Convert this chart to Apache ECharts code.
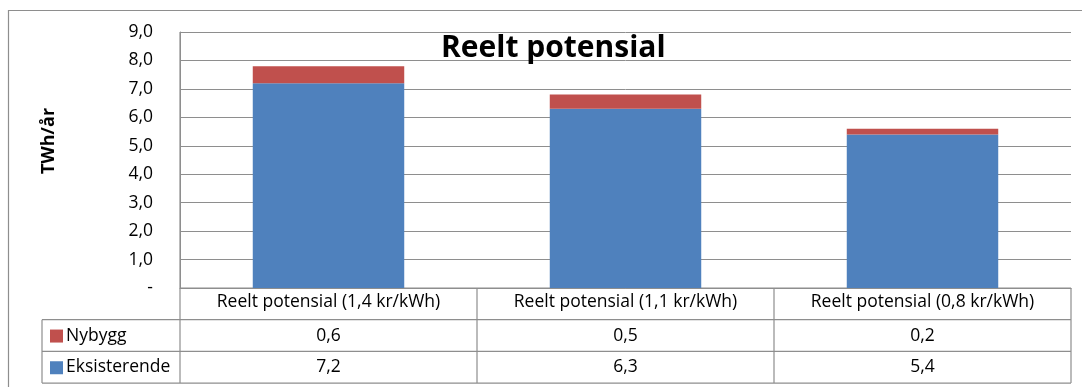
<!DOCTYPE html>
<html>
<head>
<meta charset="utf-8">
<script src="https://cdn.jsdelivr.net/npm/echarts@6/dist/echarts.min.js"></script>
<style>
  html, body { margin: 0; padding: 0; background: #fff; }
  #chart { width: 1082px; height: 387px; }
</style>
</head>
<body>
<div id="chart"></div>
<script>
// Stacked potential per price level, with a data table underneath
const categories = [
  'Reelt potensial (1,4 kr/kWh)',
  'Reelt potensial (1,1 kr/kWh)',
  'Reelt potensial (0,8 kr/kWh)'
];
const seriesNames = ['Nybygg', 'Eksisterende'];
const nybygg = [0.6, 0.5, 0.2];
const eksisterende = [7.2, 6.3, 5.4];
const yMin = 0, yMax = 9, yStep = 1;

const FONT = '"Open Sans", Lato, "Liberation Sans", sans-serif';
const BLUE = '#4F81BD';
const RED = '#C0504D';
const LINE = '#8E8E8E';
const fmt = v => v.toFixed(1).replace('.', ',');

const chart = echarts.init(document.getElementById('chart'), null, { renderer: 'canvas' });

const gridLeft = 180, gridRight = 11, gridTop = 32, gridBottom = 99;

chart.setOption({
  animation: false,
  backgroundColor: '#fff',
  textStyle: { fontFamily: FONT },
  title: {
    text: 'Reelt potensial',
    left: 436,
    top: 28,
    textStyle: { fontFamily: FONT, fontSize: 30, fontWeight: 'bold', color: '#000' }
  },
  grid: { left: gridLeft, right: gridRight, top: gridTop, bottom: gridBottom },
  xAxis: {
    type: 'category',
    data: categories,
    axisLine: { show: true, lineStyle: { color: LINE, width: 1 } },
    axisTick: { show: false },
    axisLabel: { margin: 5, fontSize: 17.5, color: '#000', fontFamily: FONT },
    splitLine: { show: false }
  },
  yAxis: {
    type: 'value',
    min: yMin, max: yMax, interval: yStep,
    axisLine: { show: true, lineStyle: { color: LINE, width: 1 } },
    axisTick: { show: false },
    axisLabel: {
      margin: 27, fontSize: 17.5, color: '#000', fontFamily: FONT,
      formatter: v => (v === 0 ? '-' : fmt(v))
    },
    splitLine: { show: true, lineStyle: { color: LINE, width: 1 } }
  },
  series: [
    {
      name: 'Eksisterende', type: 'bar', stack: 'total',
      data: eksisterende, barWidth: '51%',
      itemStyle: { color: BLUE }
    },
    {
      name: 'Nybygg', type: 'bar', stack: 'total',
      data: nybygg, barWidth: '51%',
      itemStyle: { color: RED }
    }
  ]
});

// Data table below the plot: rows aligned to the category axis
function drawTable() {
  const centers = categories.map((c, i) => chart.convertToPixel({ xAxisIndex: 0 }, i));
  const step = centers.length > 1 ? centers[1] - centers[0] : 297;
  const bounds = [centers[0] - step / 2].concat(centers.map(c => c + step / 2));
  const xL = bounds[0], xR = bounds[bounds.length - 1];
  const y0 = chart.convertToPixel({ yAxisIndex: 0 }, 0);
  const yTop = chart.convertToPixel({ yAxisIndex: 0 }, yMax);
  const rowH = 31.7;
  const rows = [y0, y0 + rowH, y0 + 2 * rowH, y0 + 3 * rowH];
  const legendLeft = 42;
  const els = [];
  const line = (x1, y1, x2, y2) => els.push({
    type: 'line', silent: true,
    shape: { x1, y1, x2, y2 },
    style: { stroke: LINE, lineWidth: 1.2 }
  });

  // outer frame edges of the chart area
  line(8, 10.5, 1082, 10.5);
  line(8.5, 10, 8.5, 387);

  // horizontal rules
  line(xL, rows[0], xR, rows[0]);
  for (let r = 1; r < rows.length; r++) line(legendLeft, rows[r], xR, rows[r]);
  // vertical rules
  line(xL, yTop, xL, rows[3]);
  bounds.slice(1).forEach(b => line(b, rows[0], b, rows[3]));
  line(legendLeft, rows[1], legendLeft, rows[3]);

  // value-axis title
  els.push({
    type: 'text', silent: true, x: 49, y: 141, rotation: Math.PI / 2,
    style: { text: 'TWh/år', font: 'bold 18px ' + FONT, fill: '#000', align: 'center', verticalAlign: 'middle' }
  });

  const rowData = [nybygg, eksisterende];
  const rowColors = [RED, BLUE];
  seriesNames.forEach((name, r) => {
    const yc = (rows[r + 1] + rows[r + 2]) / 2;
    els.push({
      type: 'rect', silent: true,
      shape: { x: 50, y: yc - 6, width: 13, height: 13 },
      style: { fill: rowColors[r] }
    });
    els.push({
      type: 'text', silent: true, x: 66, y: yc,
      style: { text: name, font: '17.5px ' + FONT, fill: '#000', verticalAlign: 'middle' }
    });
    rowData[r].forEach((v, i) => {
      els.push({
        type: 'text', silent: true, x: centers[i], y: yc,
        style: { text: fmt(v), font: '17.5px ' + FONT, fill: '#000', align: 'center', verticalAlign: 'middle' }
      });
    });
  });

  chart.setOption({ graphic: { elements: els } });
}
drawTable();
</script>
</body>
</html>
